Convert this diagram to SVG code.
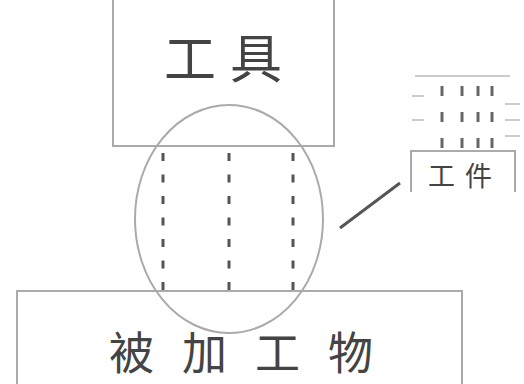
<svg xmlns="http://www.w3.org/2000/svg" width="524" height="384" viewBox="0 0 524 384">
<style>
.box{fill:none;stroke:#aaa;stroke-width:2}
.ell{fill:none;stroke:#aaa;stroke-width:2}
.dash{stroke:#555;stroke-width:3;stroke-dasharray:8 13.5}
.ldash{stroke:#666;stroke-width:3}
.lt{stroke:#ccc;stroke-width:2}
.t{font-family:"Noto Sans CJK SC","Noto Sans CJK JP",sans-serif;fill:#444}
</style>
<rect width="524" height="384" fill="#fff"/>
<g id="tool">
<path class="box" d="M113,-2 V146 H334 V-2"/>
<text class="t" x="230" y="78" font-size="52" text-anchor="middle" letter-spacing="14">工具</text>
</g>
<g id="workpiece">
<path class="box" d="M17,386 V291 H462 V386"/>
<text class="t" x="255" y="370" font-size="45" text-anchor="middle" letter-spacing="28">被加工物</text>
</g>
<g id="zone">
<ellipse class="ell" cx="229" cy="219" rx="94" ry="114"/>
<line class="dash" x1="163" y1="153" x2="163" y2="295"/>
<line class="dash" x1="229" y1="153" x2="229" y2="295"/>
<line class="dash" x1="293" y1="153" x2="293" y2="295"/>
</g>
<g id="legend">
<line class="lt" x1="415" y1="76" x2="510" y2="76"/>
<line class="lt" x1="412" y1="96" x2="424" y2="96"/>
<line class="lt" x1="412" y1="120" x2="424" y2="120"/>
<line class="lt" x1="505" y1="104" x2="520" y2="104"/>
<line class="lt" x1="505" y1="120" x2="520" y2="120"/>
<line class="lt" x1="505" y1="136" x2="520" y2="136"/>
<g class="ldash">
<line x1="442" y1="86" x2="442" y2="96"/><line x1="462" y1="86" x2="462" y2="96"/><line x1="478" y1="86" x2="478" y2="96"/><line x1="492" y1="86" x2="492" y2="96"/>
<line x1="442" y1="112" x2="442" y2="122"/><line x1="462" y1="112" x2="462" y2="122"/><line x1="478" y1="112" x2="478" y2="122"/><line x1="492" y1="112" x2="492" y2="122"/>
<line x1="442" y1="138" x2="442" y2="148"/><line x1="462" y1="138" x2="462" y2="148"/><line x1="478" y1="138" x2="478" y2="148"/><line x1="492" y1="138" x2="492" y2="148"/>
</g>
<path class="box" d="M411,192 V151 H515 V192"/>
<text class="t" x="465" y="186" font-size="27" text-anchor="middle" letter-spacing="10">工件</text>
</g>
<g id="connectors">
<line x1="340" y1="228" x2="400" y2="183" stroke="#555" stroke-width="3"/>
</g>
</svg>
